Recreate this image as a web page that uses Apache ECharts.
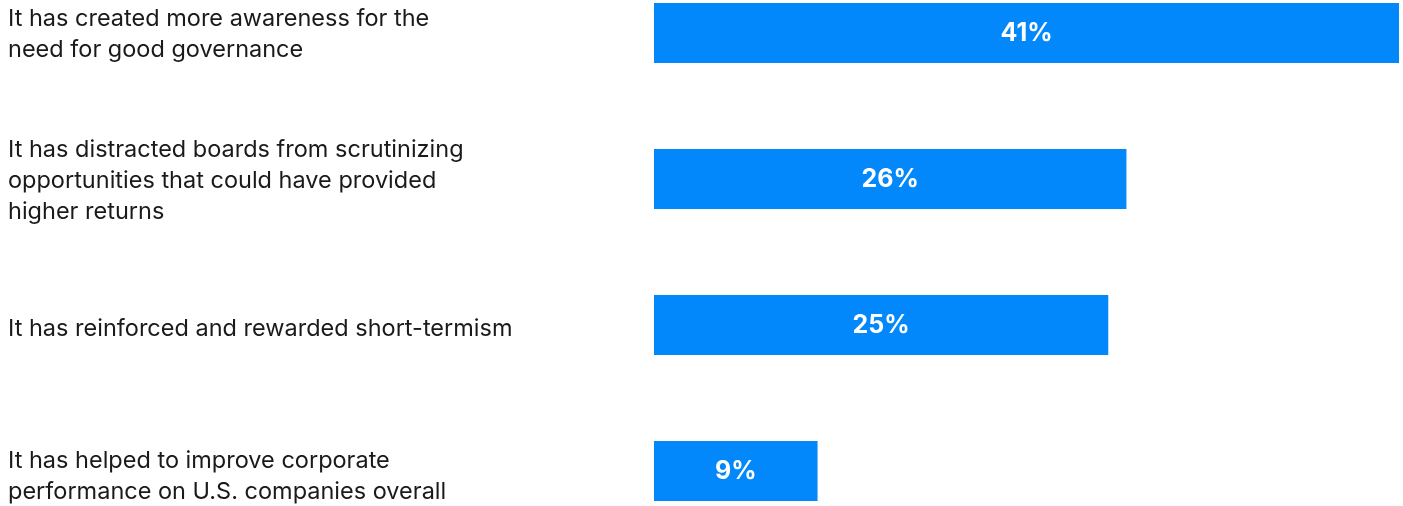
<!DOCTYPE html>
<html>
<head>
<meta charset="utf-8">
<script src="https://cdn.jsdelivr.net/npm/echarts@6/dist/echarts.min.js"></script>
<style>
  html, body { margin: 0; padding: 0; background: #ffffff; }
  #chart { width: 1403px; height: 506px; }
</style>
</head>
<body>
<div id="chart"></div>
<script>
// Survey responses: impact of the focus on governance
const categories = [
  'It has created more awareness for the\nneed for good governance',
  'It has distracted boards from scrutinizing\nopportunities that could have provided\nhigher returns',
  'It has reinforced and rewarded short-termism',
  'It has helped to improve corporate\nperformance on U.S. companies overall'
];
const shares = [41, 26, 25, 9];

const chart = echarts.init(document.getElementById('chart'), null, { renderer: 'canvas' });

chart.setOption({
  animation: false,
  backgroundColor: '#ffffff',
  // grid 0 holds the bars, grid 1 carries the category text (set slightly lower)
  grid: [
    { left: 654, right: 4, top: 33, bottom: 35, containLabel: false, outerBoundsMode: 'none' },
    { left: 654, right: 4, top: 34, bottom: 30, containLabel: false, outerBoundsMode: 'none' }
  ],
  xAxis: [
    { type: 'value', gridIndex: 0, min: 0, max: 41, show: false },
    { type: 'value', gridIndex: 1, min: 0, max: 41, show: false }
  ],
  yAxis: [
    {
      type: 'category',
      gridIndex: 0,
      data: categories,
      inverse: true,
      boundaryGap: false,
      show: false
    },
    {
      type: 'category',
      gridIndex: 1,
      data: categories,
      inverse: true,
      boundaryGap: false,
      axisLine: { show: false },
      axisTick: { show: false },
      splitLine: { show: false },
      axisLabel: {
        align: 'left',
        margin: 646,
        color: '#1a1a1a',
        fontFamily: 'Inter',
        fontSize: 23.5,
        lineHeight: 31
      }
    }
  ],
  series: [{
    type: 'bar',
    xAxisIndex: 0,
    yAxisIndex: 0,
    data: shares,
    barWidth: 60,
    itemStyle: { color: '#0388fb' },
    label: {
      show: true,
      position: 'inside',
      formatter: '{c}%',
      color: '#ffffff',
      fontFamily: 'Inter',
      fontWeight: 'bold',
      fontSize: 25
    }
  }]
});
</script>
</body>
</html>
